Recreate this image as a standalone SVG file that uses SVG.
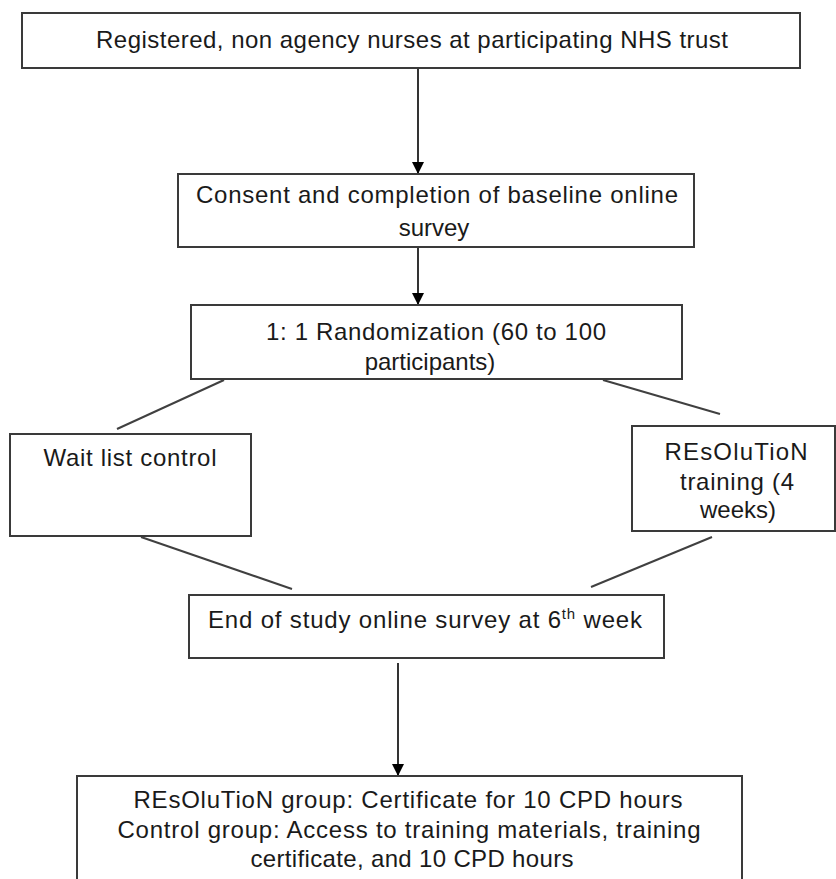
<svg xmlns="http://www.w3.org/2000/svg" width="836" height="879" viewBox="0 0 836 879">
<style>
.box{fill:#fff;stroke:#3a3a3a;stroke-width:2}
.t{font-family:"Liberation Sans",Arial,sans-serif;font-size:24px;fill:#1a1a1a;text-anchor:middle}
.arr{stroke:#000;stroke-width:1.6;fill:none}
.ln{stroke:#404040;stroke-width:2;fill:none}
</style>
<defs>
<marker id="ah" markerUnits="userSpaceOnUse" markerWidth="12" markerHeight="12" viewBox="0 0 12 12" refX="12" refY="6" orient="auto">
<path d="M0,0 L12,6 L0,12 z" fill="#000"/>
</marker>
</defs>
<rect width="836" height="879" fill="#fff"/>
<g id="connectors">
<line class="arr" x1="418" y1="68" x2="418" y2="174" marker-end="url(#ah)"/>
<line class="arr" x1="418" y1="247" x2="418" y2="305" marker-end="url(#ah)"/>
<line class="ln" x1="224" y1="380" x2="117" y2="429"/>
<line class="ln" x1="603" y1="380" x2="720" y2="414"/>
<line class="ln" x1="141" y1="537" x2="292" y2="589"/>
<line class="ln" x1="712" y1="537" x2="591" y2="587"/>
<line class="arr" x1="398" y1="663" x2="398" y2="776" marker-end="url(#ah)"/>
</g>
<g id="n1">
<rect class="box" x="22" y="13" width="778" height="55"/>
<text class="t" x="412" y="48" textLength="632">Registered, non agency nurses at participating NHS trust</text>
</g>
<g id="n2">
<rect class="box" x="178" y="174" width="516" height="73"/>
<text class="t" x="437" y="203" textLength="482">Consent and completion of baseline online</text>
<text class="t" x="434" y="236">survey</text>
</g>
<g id="n3">
<rect class="box" x="191" y="305" width="491" height="74"/>
<text class="t" x="436" y="340" textLength="340">1: 1 Randomization (60 to 100</text>
<text class="t" x="430" y="370">participants)</text>
</g>
<g id="n4">
<rect class="box" x="10" y="434" width="241" height="102"/>
<text class="t" x="130" y="466" textLength="173">Wait list control</text>
</g>
<g id="n5">
<rect class="box" x="632" y="426" width="203" height="105"/>
<text class="t" x="736" y="460" textLength="143">REsOluTioN</text>
<text class="t" x="737" y="490" textLength="114">training (4</text>
<text class="t" x="738" y="518">weeks)</text>
</g>
<g id="n6">
<rect class="box" x="189" y="595" width="475" height="63"/>
<text class="t" x="425" y="628" textLength="434">End of study online survey at 6<tspan font-size="15" dy="-9">th</tspan><tspan dy="9"> week</tspan></text>
</g>
<g id="n7">
<rect class="box" x="77" y="776" width="665" height="120"/>
<text class="t" x="408" y="808" textLength="549">REsOluTioN group: Certificate for 10 CPD hours</text>
<text class="t" x="409" y="838" textLength="583">Control group: Access to training materials, training</text>
<text class="t" x="412" y="867" textLength="323">certificate, and 10 CPD hours</text>
</g>
</svg>
